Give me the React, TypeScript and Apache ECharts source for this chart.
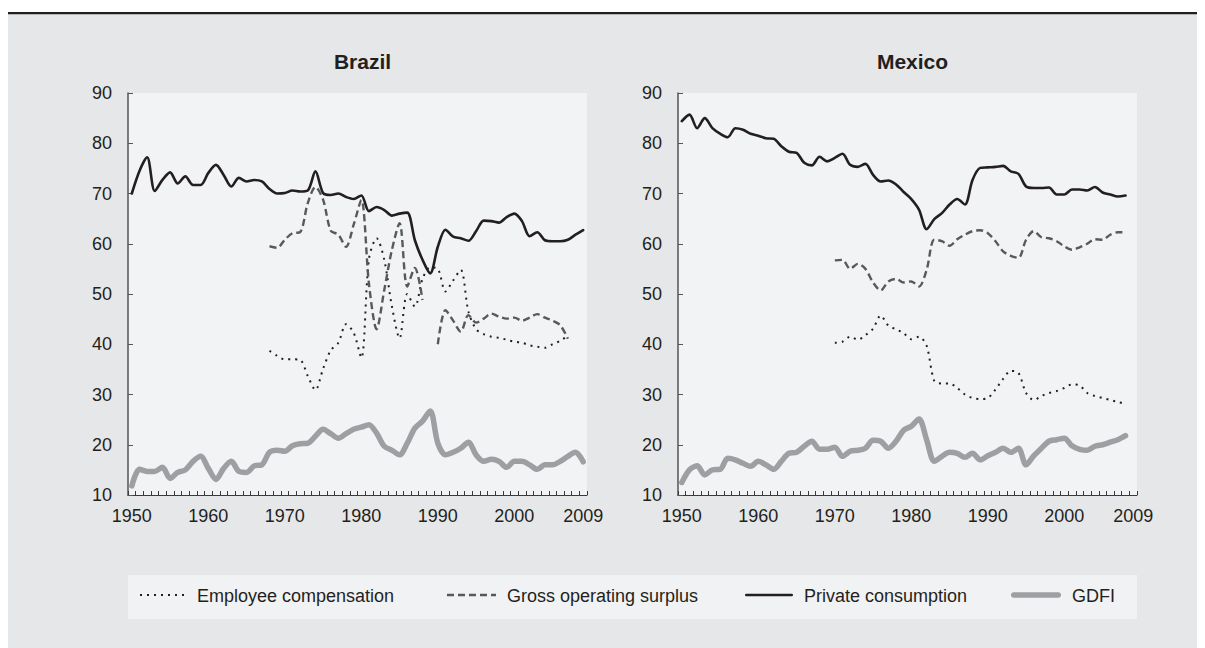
import React, { useEffect, useRef } from "react";
import * as echarts from "echarts";

const years: string[] = [
  "1950","1951","1952","1953","1954","1955","1956","1957","1958","1959",
  "1960","1961","1962","1963","1964","1965","1966","1967","1968","1969",
  "1970","1971","1972","1973","1974","1975","1976","1977","1978","1979",
  "1980","1981","1982","1983","1984","1985","1986","1987","1988","1989",
  "1990","1991","1992","1993","1994","1995","1996","1997","1998","1999",
  "2000","2001","2002","2003","2004","2005","2006","2007","2008","2009",
];

const N = null;

// Brazil (1950-2009)
const brazilPrivate = [
  70.0, 74.5, 77.2, 70.5, 72.7, 74.2, 72.0, 73.4, 71.7, 71.7,
  74.1, 75.7, 73.7, 71.4, 73.1, 72.4, 72.7, 72.4, 70.9, 70.0,
  70.1, 70.6, 70.4, 70.6, 74.4, 70.1, 69.7, 70.0, 69.3, 68.9,
  69.6, 66.5, 67.3, 66.7, 65.6, 66.0, 66.2, 60.7, 56.8, 54.1,
  59.4, 62.8, 61.4, 61.1, 60.6, 62.5, 64.6, 64.5, 64.2, 65.3,
  66.0, 64.5, 61.5, 62.3, 60.7, 60.5, 60.5, 60.8, 61.8, 62.7,
];
const brazilGOS = [
  N, N, N, N, N, N, N, N, N, N,
  N, N, N, N, N, N, N, N, 59.5, 59.2,
  60.8, 62.1, 62.3, 68.1, 71.3, 68.8, 62.6, 61.8, 59.4, 63.8,
  68.7, 52.0, 43.0, 50.8, 58.8, 64.1, 51.5, 55.2, 48.8, N,
  40.0, 46.8, 44.7, 42.5, 45.8, 44.3, 45.1, 46.1, 45.5, 45.1,
  45.3, 44.7, 45.3, 46.0, 45.3, 44.7, 43.8, 41.1, N, N,
];
const brazilEC = [
  N, N, N, N, N, N, N, N, N, N,
  N, N, N, N, N, N, N, N, 38.7, 37.7,
  37.0, 37.0, 36.9, 33.7, 30.9, 35.1, 38.8, 40.3, 44.0, 42.3,
  37.3, 57.0, 61.1, 56.8, 47.5, 41.2, 50.0, 47.5, 53.0, 55.3,
  55.0, 50.5, 52.7, 54.8, 46.5, 43.0, 42.0, 41.5, 41.3, 40.9,
  40.5, 40.3, 39.8, 39.5, 39.3, 40.0, 40.7, 41.7, N, N,
];
const brazilGDFI = [
  11.8, 15.1, 14.7, 14.7, 15.5, 13.3, 14.5, 15.0, 16.7, 17.7,
  15.3, 13.1, 15.3, 16.7, 14.7, 14.5, 15.8, 16.0, 18.5, 18.9,
  18.7, 19.8, 20.2, 20.3, 21.7, 23.1, 22.2, 21.3, 22.2, 23.1,
  23.5, 24.0, 22.3, 19.7, 18.9, 18.0, 20.3, 23.3, 24.7, 26.7,
  20.3, 18.0, 18.5, 19.3, 20.5, 18.0, 16.7, 17.1, 16.7, 15.5,
  16.7, 16.7, 16.0, 15.1, 16.0, 16.0, 16.7, 17.7, 18.5, 16.6,
];

// Mexico (1950-2008)
const mexicoPrivate = [
  84.4, 85.7, 83.0, 85.0, 83.0, 81.9, 81.2, 83.0, 82.7, 81.9,
  81.5, 81.0, 80.9, 79.4, 78.3, 78.1, 76.1, 75.6, 77.3, 76.4,
  77.1, 77.9, 75.7, 75.3, 75.9, 73.7, 72.4, 72.6, 71.8, 70.3,
  68.9, 66.8, 62.9, 64.9, 66.1, 67.8, 68.9, 67.8, 72.7, 75.1,
  75.2, 75.3, 75.5, 74.4, 73.9, 71.4, 71.1, 71.1, 71.2, 69.8,
  69.8, 70.8, 70.8, 70.6, 71.3, 70.2, 69.8, 69.4, 69.6,
];
const mexicoGOS = [
  N, N, N, N, N, N, N, N, N, N,
  N, N, N, N, N, N, N, N, N, N,
  56.7, 56.8, 55.0, 56.0, 55.0, 52.3, 50.7, 52.5, 53.0, 52.3,
  52.5, 51.5, 54.8, 60.8, 60.5, 59.6, 60.9, 61.8, 62.5, 62.7,
  62.1, 60.5, 58.5, 57.6, 57.2, 60.8, 62.5, 61.3, 61.1, 60.5,
  59.5, 58.8, 59.3, 60.0, 60.9, 60.8, 61.8, 62.3, 62.3,
];
const mexicoEC = [
  N, N, N, N, N, N, N, N, N, N,
  N, N, N, N, N, N, N, N, N, N,
  40.3, 40.5, 41.5, 40.9, 41.8, 43.1, 45.7, 43.7, 43.0, 42.2,
  41.0, 41.5, 39.7, 32.7, 32.2, 32.2, 31.3, 30.0, 29.3, 29.1,
  29.3, 31.0, 33.1, 34.7, 34.3, 30.3, 28.9, 29.7, 30.3, 30.7,
  31.3, 32.0, 31.8, 30.3, 29.7, 29.3, 28.9, 28.5, 28.2,
];
const mexicoGDFI = [
  12.5, 15.0, 15.8, 14.0, 15.0, 15.1, 17.3, 17.0, 16.3, 15.7,
  16.7, 16.0, 15.1, 16.7, 18.3, 18.5, 19.7, 20.7, 19.1, 19.1,
  19.5, 17.7, 18.7, 18.9, 19.3, 20.9, 20.7, 19.3, 20.7, 22.9,
  23.7, 25.1, 21.0, 16.7, 17.7, 18.5, 18.3, 17.5, 18.3, 17.0,
  17.8, 18.5, 19.3, 18.5, 19.3, 16.0, 17.8, 19.3, 20.7, 21.0,
  21.3, 19.8, 19.1, 18.9, 19.7, 20.0, 20.5, 21.0, 21.8,
];

const seriesNames = [
  "Employee compensation",
  "Gross operating surplus",
  "Private consumption",
  "GDFI",
];
const panelTitles = ["Brazil", "Mexico"];
const yTicks = { min: 10, max: 90, interval: 10 };

const FONT = "'Liberation Sans', Arial, Helvetica, sans-serif";
const TXT = "#231f20";

export default function App() {
  const ref = useRef<HTMLDivElement>(null);

  useEffect(() => {
    if (!ref.current) return;
    const chart = echarts.init(ref.current, undefined, { renderer: "svg" });

    const gridLefts = [120, 670];
    const gridW = 459;
    const grids = gridLefts.map((l) => ({
      left: l,
      top: 85,
      width: gridW,
      height: 402,
      show: true,
      backgroundColor: "#f2f3f5",
      borderWidth: 0,
    }));

    const xAxes = [0, 1].map((i) => ({
      type: "category",
      gridIndex: i,
      data: years,
      boundaryGap: true,
      axisLine: { show: true, lineStyle: { color: "#3a3a3a", width: 1.2 } },
      axisTick: {
        show: true,
        inside: true,
        length: 4,
        interval: 0,
        lineStyle: { color: "#3a3a3a", width: 1 },
      },
      axisLabel: {
        interval: (idx: number) => idx % 10 === 0 || idx === years.length - 1,
        color: TXT,
        fontFamily: FONT,
        fontSize: 18,
        margin: 12,
      },
      splitLine: { show: false },
    }));

    const yAxes = [0, 1].map((i) => ({
      type: "value",
      gridIndex: i,
      min: yTicks.min,
      max: yTicks.max,
      interval: yTicks.interval,
      axisLine: { show: true, lineStyle: { color: "#555", width: 1.5 } },
      axisTick: { show: true, inside: true, length: 5, lineStyle: { color: "#555" } },
      axisLabel: { color: TXT, fontFamily: FONT, fontSize: 18, margin: 16 },
      splitLine: { show: false },
    }));

    const styles: any[] = [
      { color: "#231f20", width: 2, type: [2, 5], cap: "butt" },
      { color: "#58595b", width: 2.4, type: [7, 4], cap: "butt" },
      { color: "#231f20", width: 2.6, type: "solid", cap: "round" },
      { color: "#9d9fa2", width: 5.5, type: "solid", cap: "round" },
    ];

    const panels = [
      [brazilEC, brazilGOS, brazilPrivate, brazilGDFI],
      [mexicoEC, mexicoGOS, mexicoPrivate, mexicoGDFI],
    ];

    const drawOrder = [3, 0, 1, 2];
    const series: any[] = [];
    panels.forEach((data, p) => {
      drawOrder.forEach((k) => {
        series.push({
          type: "line",
          name: seriesNames[k],
          xAxisIndex: p,
          yAxisIndex: p,
          data: data[k],
          smooth: 0.3,
          showSymbol: false,
          symbol: "none",
          connectNulls: false,
          color: styles[k].color,
          lineStyle: {
            color: styles[k].color,
            width: styles[k].width,
            type: styles[k].type,
            cap: styles[k].cap,
            join: "round",
          },
          z: 2 + k,
        });
      });
    });

    // legend drawn as graphic elements
    const legendSampleX = [132, 439, 737, 1003];
    const legendSampleW = [46, 49, 48, 50];
    const legendY = 587;
    const legendGraphics: any[] = [];
    seriesNames.forEach((name, k) => {
      const st = styles[k];
      legendGraphics.push({
        type: "line",
        z: 5,
        silent: true,
        shape: {
          x1: legendSampleX[k] + (st.cap === "round" ? st.width / 2 : 0),
          y1: legendY,
          x2: legendSampleX[k] + legendSampleW[k] - (st.cap === "round" ? st.width / 2 : 0),
          y2: legendY,
        },
        style: {
          stroke: st.color,
          lineWidth: k === 0 ? 2 : st.width,
          lineDash: Array.isArray(st.type) ? st.type : null,
          lineCap: st.cap,
        },
      });
      legendGraphics.push({
        type: "text",
        z: 5,
        silent: true,
        x: legendSampleX[k] + legendSampleW[k] + 11,
        y: legendY + 1,
        style: {
          text: name,
          fontFamily: FONT,
          fontSize: 18,
          fill: TXT,
          align: "left",
          verticalAlign: "middle",
        },
      });
    });

    chart.setOption({
      animation: false,
      backgroundColor: "#ffffff",
      title: panelTitles.map((t, i) => ({
        text: t,
        left: gridLefts[i] + gridW / 2,
        top: 38,
        textAlign: "center",
        textStyle: { fontFamily: FONT, fontSize: 21, fontWeight: "bold", color: TXT },
      })),
      graphic: [
        { type: "rect", z: -10, silent: true, shape: { x: 0, y: 6, width: 1197, height: 634 }, style: { fill: "#e6e7e9" } },
        { type: "rect", z: -10, silent: true, shape: { x: 0, y: 4, width: 1197, height: 2.2 }, style: { fill: "#231f20" } },
        { type: "rect", z: -9, silent: true, shape: { x: 120, y: 567, width: 1009, height: 44 }, style: { fill: "#f1f2f4" } },
        ...legendGraphics,
      ],
      grid: grids,
      xAxis: xAxes,
      yAxis: yAxes,
      series,
    });

    return () => chart.dispose();
  }, []);

  return <div ref={ref} style={{ width: 1197, height: 640 }} />;
}
